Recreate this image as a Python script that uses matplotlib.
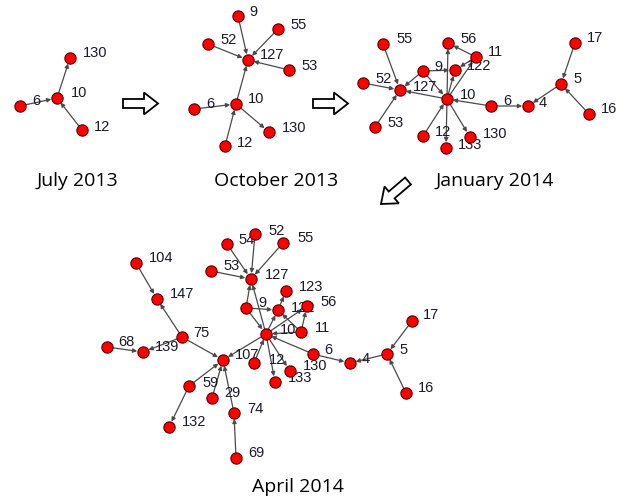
import matplotlib
matplotlib.use("Agg")
import matplotlib.pyplot as plt
from matplotlib.patches import FancyArrow

# ---------------- data ----------------
panel_titles = ["July 2013", "October 2013", "January 2014", "April 2014"]

# July 2013
jul_nodes = ["6", "10", "130", "12"]
jul_edges = [("6", "10"), ("10", "130"), ("12", "10")]

# October 2013
oct_nodes = ["9", "55", "52", "127", "53", "6", "10", "130", "12"]
oct_edges = [("9", "127"), ("55", "127"), ("52", "127"), ("53", "127"),
             ("10", "127"), ("6", "10"), ("12", "10"), ("10", "130")]

# January 2014
jan_nodes = ["55", "56", "11", "17", "9", "122", "52", "127", "10", "5",
             "6", "4", "16", "53", "12", "130", "133"]
jan_edges = [("55", "127"), ("52", "127"), ("53", "127"), ("10", "127"),
             ("9", "127"), ("9", "10"), ("9", "122"), ("10", "56"),
             ("10", "122"), ("10", "11"), ("11", "56"), ("11", "122"),
             ("12", "10"), ("10", "133"), ("10", "130"), ("6", "10"),
             ("6", "4"), ("5", "4"), ("17", "5"), ("16", "5")]

# April 2014
apr_nodes = ["104", "147", "75", "68", "139", "107", "54", "52", "55", "53",
             "127", "123", "9", "122", "56", "10", "11", "6", "12", "130",
             "133", "4", "5", "17", "16", "59", "29", "74", "132", "69"]
apr_edges = [("104", "147"), ("75", "147"), ("75", "139"), ("68", "139"),
             ("75", "107"), ("10", "107"), ("59", "107"), ("29", "107"),
             ("74", "107"), ("59", "132"), ("69", "74"), ("54", "127"),
             ("52", "127"), ("55", "127"), ("53", "127"), ("9", "127"),
             ("10", "127"), ("9", "10"), ("9", "122"), ("122", "123"),
             ("10", "122"), ("10", "56"), ("11", "56"), ("11", "122"),
             ("11", "10"), ("12", "10"), ("10", "133"), ("10", "130"),
             ("6", "10"), ("6", "4"), ("5", "4"), ("17", "5"), ("16", "5")]

# ---------------- layout (pixel positions of the drawing) ----------------
jul_pos = {"6": (20, 106), "10": (57, 98), "130": (70, 58), "12": (82, 130)}
jul_lab = {"6": (32, 101), "10": (71, 93), "130": (83, 53), "12": (94, 127)}

oct_pos = {"9": (238, 16), "55": (278, 29), "52": (208, 44), "127": (248, 60),
           "53": (289, 70), "6": (194, 109), "10": (236, 104),
           "130": (269, 132), "12": (225, 146)}
oct_lab = {"9": (249, 12), "55": (290, 25), "52": (220, 40), "127": (260, 55),
           "53": (301, 66), "6": (206, 104), "10": (248, 99),
           "130": (282, 128), "12": (237, 143)}

jan_pos = {"55": (383, 44), "56": (448, 43), "11": (476, 57), "17": (575, 43),
           "9": (423, 71), "122": (455, 70), "52": (363, 83), "127": (400, 90),
           "10": (447, 99), "5": (561, 84), "6": (491, 106), "4": (528, 106),
           "16": (589, 114), "53": (375, 127), "12": (423, 136),
           "130": (470, 137), "133": (446, 148)}
jan_lab = {"55": (396, 39), "56": (460, 39), "11": (488, 52), "17": (587, 38),
           "9": (434, 67), "122": (467, 66), "52": (375, 79), "127": (413, 87),
           "10": (460, 95), "5": (573, 79), "6": (503, 101), "4": (539, 103),
           "16": (601, 109), "53": (387, 123), "12": (435, 132),
           "130": (483, 134), "133": (458, 145)}

apr_pos = {"104": (136, 263), "147": (157, 299), "75": (182, 337),
           "68": (107, 347), "139": (143, 352), "107": (223, 360),
           "54": (227, 244), "52": (255, 234), "55": (283, 243),
           "53": (211, 271), "127": (251, 279), "123": (286, 291),
           "9": (246, 308), "122": (278, 310), "56": (307, 306),
           "10": (266, 334), "11": (301, 332), "6": (313, 354),
           "12": (254, 363), "130": (290, 371), "133": (275, 382),
           "4": (350, 363), "5": (387, 354), "17": (412, 321),
           "16": (406, 393), "59": (189, 386), "29": (212, 398),
           "74": (234, 413), "132": (169, 427), "69": (236, 458)}
apr_lab = {"104": (149, 258), "147": (170, 294), "75": (193, 333),
           "68": (118, 342), "139": (155, 347), "107": (235, 355),
           "54": (238, 240), "52": (268, 231), "55": (297, 238),
           "53": (223, 266), "127": (265, 275), "123": (299, 287),
           "9": (258, 303), "122": (291, 308), "56": (320, 302),
           "10": (280, 330), "11": (315, 328), "6": (324, 350),
           "12": (269, 360), "130": (303, 366), "133": (288, 378),
           "4": (362, 359), "5": (399, 350), "17": (423, 315),
           "16": (418, 388), "59": (202, 383), "29": (224, 393),
           "74": (247, 409), "132": (182, 422), "69": (248, 453)}

title_pos = [(77, 181), (276, 181), (495, 181), (298, 487)]

# ---------------- drawing ----------------
fig = plt.figure(figsize=(6.2, 5.0), dpi=100)
ax = fig.add_axes([0, 0, 1, 1])
ax.set_xlim(0, 620)
ax.set_ylim(500, 0)
ax.axis("off")

LABEL_FONT = ["Liberation Sans", "DejaVu Sans"]
TITLE_FONT = ["Open Sans", "DejaVu Sans"]


def draw_network(nodes, edges, pos, lab):
    for a, b in edges:
        ax.annotate("", xy=pos[b], xytext=pos[a],
                    arrowprops=dict(arrowstyle="-|>", color="#4a4a4a",
                                    lw=0.9, mutation_scale=6,
                                    shrinkA=3.5, shrinkB=4.2),
                    zorder=1)
    xs = [pos[n][0] for n in nodes]
    ys = [pos[n][1] for n in nodes]
    ax.scatter(xs, ys, s=66, c="#ff0000", edgecolors="#5a0000",
               linewidths=0.8, zorder=3)
    for n in nodes:
        ax.text(lab[n][0], lab[n][1], n, ha="left", va="center",
                fontsize=10.5, family=LABEL_FONT, color="#1a1a2a", zorder=2)


draw_network(jul_nodes, jul_edges, jul_pos, jul_lab)
draw_network(oct_nodes, oct_edges, oct_pos, oct_lab)
draw_network(jan_nodes, jan_edges, jan_pos, jan_lab)
draw_network(apr_nodes, apr_edges, apr_pos, apr_lab)

for t, (x, y) in zip(panel_titles, title_pos):
    ax.text(x, y, t, ha="center", va="center", fontsize=14,
            family=TITLE_FONT, color="black")

# hollow block arrows between panels
for (x0, y0, dx, dy) in [(123, 103.5, 35, 0), (313, 103.5, 35, 0),
                         (408, 181, -27, 23)]:
    ax.add_patch(FancyArrow(x0, y0, dx, dy, width=9, head_width=22,
                            head_length=14, length_includes_head=True,
                            fc="white", ec="black", lw=1.3, zorder=2))

fig.savefig("out.png", dpi=100)
